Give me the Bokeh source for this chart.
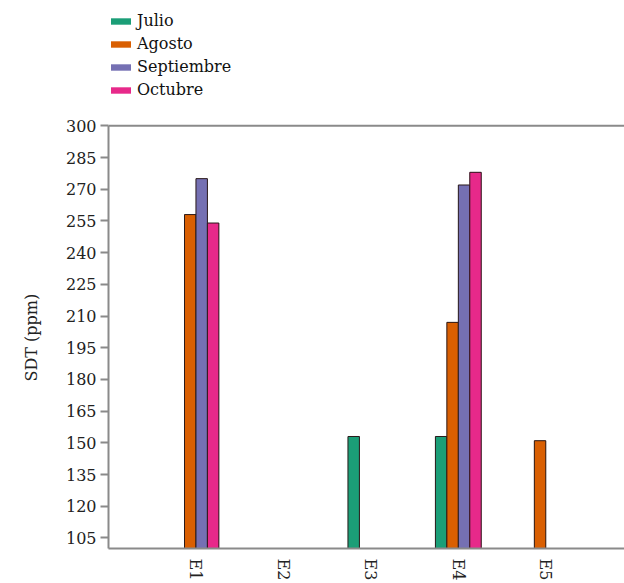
import math
from bokeh.plotting import figure
from bokeh.models import (Range1d, FixedTicker, Legend, LegendItem, Span,
                          ColumnDataSource, Title)
from bokeh.embed import file_html
from bokeh.resources import INLINE

# ---- data ----
stations = ["E1", "E2", "E3", "E4", "E5"]
months = ["Julio", "Agosto", "Septiembre", "Octubre"]
julio = [math.nan, math.nan, 153, 153, math.nan]
agosto = [258, math.nan, math.nan, 207, 151]
septiembre = [275, math.nan, math.nan, 272, math.nan]
octubre = [254, math.nan, math.nan, 278, math.nan]
colors = ["#1b9e77", "#d95f02", "#7570b3", "#e7298a"]
y_ticks = list(range(105, 301, 15))
y_min, y_max = 100, 300
y_label = "SDT (ppm)"

FONT = "DejaVu Serif"
AXIS_GRAY = "#8a8a8a"

W, H = 624, 583
TOP = 4
p = figure(width=W, height=H, output_backend="svg", toolbar_location=None,
           x_range=Range1d(0, 5.9), y_range=Range1d(y_min, 357.4),
           min_border_left=108, min_border_top=TOP, min_border_right=0,
           min_border_bottom=20)
p.outline_line_color = None
p.xgrid.visible = False
p.ygrid.visible = False

xpos = [i + 1 for i in range(len(stations))]
w = 0.131
series = [julio, agosto, septiembre, octubre]
items = []
for k, (name, vals, col) in enumerate(zip(months, series, colors)):
    off = (k - 1.5) * w
    src = ColumnDataSource(dict(x=[x + off for x in xpos], top=vals))
    swatch = p.vbar(x="x", top="top", bottom=0, width=w, source=src,
                    fill_color=col, line_color=None)
    p.vbar(x="x", top="top", bottom=0, width=w, source=src,
           fill_color=col, line_color="#2a1a1a", line_width=1)
    items.append(LegendItem(label=name, renderers=[swatch]))

legend = Legend(items=items, location=(0, 449), orientation="vertical",
                glyph_width=25, glyph_height=8, label_standoff=4,
                label_text_font=FONT, label_text_font_size="16px",
                label_text_color="#111111",
                label_height=19, spacing=4, padding=0, margin=0,
                border_line_color=None, background_fill_alpha=0)
p.add_layout(legend, "center")

p.add_layout(Span(location=y_max, dimension="width", line_color=AXIS_GRAY, line_width=2))

# y axis
ya = p.yaxis[0]
ya.ticker = FixedTicker(ticks=y_ticks)
ya.bounds = (y_min, y_max)
ya.major_label_text_font = FONT
ya.major_label_text_font_size = "16px"
ya.major_label_text_color = "#222222"
ya.axis_line_color = AXIS_GRAY
ya.axis_line_width = 2
ya.major_tick_line_color = AXIS_GRAY
ya.major_tick_line_width = 2
ya.major_tick_out = 8
ya.major_tick_in = 0
ya.minor_tick_line_color = None
ya.major_label_standoff = 4

# y axis label as a left-side title, centred on the 100-300 span
ylab = Title(text=y_label, align="left", offset=167, vertical_align="top",
             standoff=40,
             text_font=FONT, text_font_size="16px", text_font_style="normal",
             text_color="#222222")
p.add_layout(ylab, "left")

# x axis
xa = p.xaxis[0]
xa.ticker = FixedTicker(ticks=xpos)
xa.major_label_overrides = {x: s for x, s in zip(xpos, stations)}
xa.major_label_orientation = "vertical"
xa.major_label_text_font = FONT
xa.major_label_text_font_size = "16px"
xa.major_label_text_color = "#222222"
xa.axis_line_color = AXIS_GRAY
xa.axis_line_width = 2
xa.major_tick_line_color = None
xa.minor_tick_line_color = None
xa.major_label_standoff = 4

open("out.html", "w").write(file_html(p, INLINE))
